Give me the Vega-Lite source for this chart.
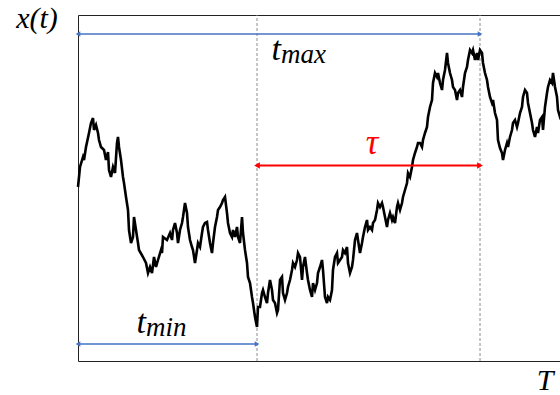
{
  "$schema": "https://vega.github.io/schema/vega-lite/v6.json",
  "width": 484,
  "height": 346,
  "autosize": "none",
  "padding": {"left": 78, "top": 15, "right": 0, "bottom": 34},
  "background": "white",
  "config": {"view": {"stroke": "#222222", "strokeWidth": 1}},
  "datasets": {
    "path": [
      {"t":0,"v":1},{"t":2,"v":21},{"t":5,"v":31},{"t":6,"v":28},{"t":8,"v":41},{"t":11,"v":55},{"t":13,"v":65},{"t":15,"v":70},{"t":16,"v":58},{"t":18,"v":63},{"t":20,"v":55},{"t":21,"v":48},{"t":23,"v":41},{"t":26,"v":38},{"t":28,"v":28},{"t":30,"v":36},{"t":31,"v":18},{"t":33,"v":11},{"t":35,"v":21},{"t":37,"v":15},{"t":39,"v":45},{"t":40,"v":51},{"t":41,"v":41},{"t":43,"v":28},{"t":45,"v":11},{"t":46,"v":5},{"t":48,"v":-9},{"t":50,"v":-22},{"t":51,"v":-42},{"t":53,"v":-55},{"t":55,"v":-49},{"t":56,"v":-29},{"t":58,"v":-42},{"t":60,"v":-55},{"t":61,"v":-62},{"t":65,"v":-69},{"t":68,"v":-75},{"t":70,"v":-85},{"t":72,"v":-79},{"t":74,"v":-85},{"t":76,"v":-69},{"t":78,"v":-79},{"t":80,"v":-72},{"t":83,"v":-62},{"t":84,"v":-65},{"t":85,"v":-49},{"t":89,"v":-52},{"t":92,"v":-45},{"t":94,"v":-52},{"t":95,"v":-42},{"t":97,"v":-35},{"t":99,"v":-45},{"t":100,"v":-55},{"t":102,"v":-42},{"t":104,"v":-35},{"t":105,"v":-29},{"t":107,"v":-15},{"t":109,"v":-25},{"t":110,"v":-39},{"t":112,"v":-52},{"t":114,"v":-59},{"t":115,"v":-62},{"t":117,"v":-75},{"t":119,"v":-62},{"t":120,"v":-55},{"t":122,"v":-59},{"t":124,"v":-45},{"t":125,"v":-39},{"t":127,"v":-35},{"t":129,"v":-34},{"t":130,"v":-42},{"t":132,"v":-55},{"t":134,"v":-65},{"t":135,"v":-55},{"t":137,"v":-39},{"t":139,"v":-29},{"t":140,"v":-22},{"t":142,"v":-19},{"t":144,"v":-15},{"t":145,"v":-12},{"t":147,"v":-9},{"t":149,"v":-25},{"t":150,"v":-35},{"t":152,"v":-45},{"t":154,"v":-49},{"t":155,"v":-42},{"t":157,"v":-49},{"t":159,"v":-39},{"t":160,"v":-49},{"t":162,"v":-55},{"t":164,"v":-29},{"t":165,"v":-45},{"t":167,"v":-62},{"t":169,"v":-75},{"t":170,"v":-89},{"t":172,"v":-95},{"t":174,"v":-109},{"t":175,"v":-115},{"t":177,"v":-129},{"t":179,"v":-139},{"t":180,"v":-119},{"t":182,"v":-119},{"t":184,"v":-105},{"t":185,"v":-102},{"t":187,"v":-109},{"t":189,"v":-115},{"t":190,"v":-105},{"t":192,"v":-92},{"t":194,"v":-102},{"t":195,"v":-112},{"t":197,"v":-115},{"t":199,"v":-125},{"t":200,"v":-122},{"t":202,"v":-92},{"t":204,"v":-89},{"t":205,"v":-105},{"t":207,"v":-112},{"t":209,"v":-105},{"t":210,"v":-99},{"t":212,"v":-92},{"t":214,"v":-82},{"t":215,"v":-75},{"t":217,"v":-79},{"t":219,"v":-72},{"t":220,"v":-65},{"t":222,"v":-69},{"t":224,"v":-92},{"t":225,"v":-79},{"t":227,"v":-69},{"t":229,"v":-85},{"t":230,"v":-92},{"t":232,"v":-102},{"t":234,"v":-109},{"t":235,"v":-95},{"t":237,"v":-102},{"t":239,"v":-95},{"t":240,"v":-85},{"t":242,"v":-79},{"t":244,"v":-72},{"t":245,"v":-82},{"t":247,"v":-109},{"t":249,"v":-115},{"t":250,"v":-109},{"t":252,"v":-112},{"t":254,"v":-102},{"t":255,"v":-82},{"t":257,"v":-69},{"t":259,"v":-65},{"t":260,"v":-75},{"t":262,"v":-72},{"t":264,"v":-69},{"t":265,"v":-62},{"t":267,"v":-65},{"t":269,"v":-59},{"t":270,"v":-75},{"t":272,"v":-85},{"t":274,"v":-79},{"t":275,"v":-72},{"t":277,"v":-52},{"t":279,"v":-45},{"t":280,"v":-52},{"t":282,"v":-65},{"t":284,"v":-55},{"t":285,"v":-49},{"t":287,"v":-39},{"t":289,"v":-32},{"t":290,"v":-42},{"t":292,"v":-39},{"t":294,"v":-42},{"t":295,"v":-35},{"t":297,"v":-32},{"t":299,"v":-22},{"t":300,"v":-15},{"t":302,"v":-19},{"t":304,"v":-15},{"t":305,"v":-19},{"t":307,"v":-29},{"t":309,"v":-39},{"t":310,"v":-32},{"t":312,"v":-25},{"t":314,"v":-32},{"t":315,"v":-29},{"t":317,"v":-35},{"t":319,"v":-19},{"t":320,"v":-15},{"t":322,"v":-22},{"t":324,"v":-15},{"t":325,"v":-9},{"t":327,"v":-2},{"t":329,"v":5},{"t":330,"v":15},{"t":332,"v":11},{"t":334,"v":21},{"t":335,"v":28},{"t":337,"v":35},{"t":339,"v":41},{"t":340,"v":45},{"t":342,"v":45},{"t":344,"v":41},{"t":345,"v":48},{"t":347,"v":55},{"t":349,"v":61},{"t":350,"v":71},{"t":352,"v":81},{"t":354,"v":88},{"t":355,"v":105},{"t":357,"v":115},{"t":359,"v":111},{"t":360,"v":115},{"t":362,"v":105},{"t":364,"v":98},{"t":365,"v":108},{"t":367,"v":118},{"t":369,"v":135},{"t":370,"v":125},{"t":372,"v":115},{"t":374,"v":108},{"t":375,"v":101},{"t":377,"v":98},{"t":379,"v":88},{"t":380,"v":95},{"t":382,"v":98},{"t":384,"v":91},{"t":385,"v":101},{"t":387,"v":115},{"t":389,"v":121},{"t":390,"v":128},{"t":392,"v":138},{"t":394,"v":135},{"t":395,"v":138},{"t":397,"v":128},{"t":399,"v":135},{"t":400,"v":128},{"t":402,"v":138},{"t":404,"v":135},{"t":405,"v":125},{"t":407,"v":115},{"t":409,"v":108},{"t":410,"v":101},{"t":412,"v":91},{"t":414,"v":85},{"t":415,"v":88},{"t":417,"v":75},{"t":419,"v":68},{"t":420,"v":48},{"t":422,"v":40},{"t":424,"v":35},{"t":425,"v":28},{"t":427,"v":38},{"t":429,"v":45},{"t":430,"v":41},{"t":432,"v":51},{"t":434,"v":58},{"t":435,"v":65},{"t":437,"v":68},{"t":439,"v":61},{"t":440,"v":65},{"t":442,"v":75},{"t":444,"v":81},{"t":445,"v":91},{"t":447,"v":98},{"t":449,"v":95},{"t":450,"v":85},{"t":452,"v":75},{"t":454,"v":65},{"t":455,"v":58},{"t":457,"v":51},{"t":459,"v":61},{"t":460,"v":55},{"t":462,"v":68},{"t":464,"v":71},{"t":465,"v":58},{"t":467,"v":81},{"t":469,"v":95},{"t":470,"v":101},{"t":472,"v":108},{"t":474,"v":105},{"t":475,"v":115},{"t":477,"v":101},{"t":479,"v":91},{"t":480,"v":78},{"t":482,"v":71},{"t":484,"v":74}
    ],
    "events": [{"event": "t_min", "t": 179}, {"event": "t_max", "t": 402}],
    "spans": [
      {"name": "t_max", "t0": 0, "t1": 402, "v": 154},
      {"name": "t_min", "t0": 0, "t1": 179, "v": -156},
      {"name": "tau", "t0": 179, "t1": 402, "v": 22.5}
    ],
    "labels": [
      {"name": "t_max", "main": "t", "sub": "max", "t": 203, "v": 128},
      {"name": "t_min", "main": "t", "sub": "min", "t": 68, "v": -145},
      {"name": "tau", "main": "τ", "t": 294, "v": 34}
    ],
    "titles": [
      {"name": "x(t)", "t": -41, "v": 160},
      {"name": "T", "t": 467, "v": -202}
    ]
  },
  "layer": [
    {
      "mark": {"type": "rule", "color": "#cccccc", "strokeWidth": 1},
      "encoding": {
        "y": {"datum": 0, "type": "quantitative", "scale": {"domain": [-173, 173], "nice": false, "zero": false}, "axis": null}
      }
    },
    {
      "data": {"name": "events"},
      "mark": {"type": "rule", "color": "#8c8c8c", "strokeWidth": 1, "strokeDash": [3, 2]},
      "encoding": {
        "x": {"field": "t", "type": "quantitative", "scale": {"domain": [0, 484], "nice": false, "zero": false}, "axis": null},
        "y": {"datum": -173, "type": "quantitative", "scale": {"domain": [-173, 173], "nice": false, "zero": false}, "axis": null},
        "y2": {"datum": 173}
      }
    },
    {
      "data": {"name": "path"},
      "mark": {"type": "line", "color": "#000000", "strokeWidth": 2.6},
      "encoding": {
        "x": {"field": "t", "type": "quantitative", "scale": {"domain": [0, 484], "nice": false, "zero": false}, "axis": null},
        "y": {"field": "v", "type": "quantitative", "scale": {"domain": [-173, 173], "nice": false, "zero": false}, "axis": null}
      }
    },
    {
      "data": {"name": "spans"},
      "transform": [{"filter": "datum.name !== 'tau'"}],
      "mark": {"type": "rule", "color": "#4472c4", "strokeWidth": 1.3},
      "encoding": {
        "x": {"field": "t0", "type": "quantitative", "scale": {"domain": [0, 484], "nice": false, "zero": false}, "axis": null},
        "x2": {"field": "t1"},
        "y": {"field": "v", "type": "quantitative", "scale": {"domain": [-173, 173], "nice": false, "zero": false}, "axis": null}
      }
    },
    {
      "data": {"name": "spans"},
      "transform": [{"filter": "datum.name === 'tau'"}],
      "mark": {"type": "rule", "color": "#ff0000", "strokeWidth": 2.2},
      "encoding": {
        "x": {"field": "t0", "type": "quantitative", "scale": {"domain": [0, 484], "nice": false, "zero": false}, "axis": null},
        "x2": {"field": "t1"},
        "y": {"field": "v", "type": "quantitative", "scale": {"domain": [-173, 173], "nice": false, "zero": false}, "axis": null}
      }
    },
    {
      "data": {"name": "spans"},
      "transform": [{"filter": "datum.name !== 'tau'"}],
      "mark": {"type": "point", "shape": "triangle-left", "filled": true, "color": "#4472c4", "size": 28, "opacity": 1, "dx": 4},
      "encoding": {
        "x": {"field": "t0", "type": "quantitative", "scale": {"domain": [0, 484], "nice": false, "zero": false}, "axis": null},
        "y": {"field": "v", "type": "quantitative", "scale": {"domain": [-173, 173], "nice": false, "zero": false}, "axis": null}
      }
    },
    {
      "data": {"name": "spans"},
      "transform": [{"filter": "datum.name !== 'tau'"}],
      "mark": {"type": "point", "shape": "triangle-right", "filled": true, "color": "#4472c4", "size": 28, "opacity": 1, "dx": -3},
      "encoding": {
        "x": {"field": "t1", "type": "quantitative", "scale": {"domain": [0, 484], "nice": false, "zero": false}, "axis": null},
        "y": {"field": "v", "type": "quantitative", "scale": {"domain": [-173, 173], "nice": false, "zero": false}, "axis": null}
      }
    },
    {
      "data": {"name": "spans"},
      "transform": [{"filter": "datum.name === 'tau'"}],
      "mark": {"type": "point", "shape": "triangle-left", "filled": true, "color": "#ff0000", "size": 45, "opacity": 1, "dx": 3},
      "encoding": {
        "x": {"field": "t0", "type": "quantitative", "scale": {"domain": [0, 484], "nice": false, "zero": false}, "axis": null},
        "y": {"field": "v", "type": "quantitative", "scale": {"domain": [-173, 173], "nice": false, "zero": false}, "axis": null}
      }
    },
    {
      "data": {"name": "spans"},
      "transform": [{"filter": "datum.name === 'tau'"}],
      "mark": {"type": "point", "shape": "triangle-right", "filled": true, "color": "#ff0000", "size": 45, "opacity": 1, "dx": -3},
      "encoding": {
        "x": {"field": "t1", "type": "quantitative", "scale": {"domain": [0, 484], "nice": false, "zero": false}, "axis": null},
        "y": {"field": "v", "type": "quantitative", "scale": {"domain": [-173, 173], "nice": false, "zero": false}, "axis": null}
      }
    },
    {
      "data": {"name": "labels"},
      "transform": [{"filter": "datum.name !== 'tau'"}],
      "mark": {"type": "text", "font": "Liberation Serif", "fontStyle": "italic", "fontSize": 34, "align": "right", "baseline": "alphabetic", "color": "#000000"},
      "encoding": {
        "x": {"field": "t", "type": "quantitative", "scale": {"domain": [0, 484], "nice": false, "zero": false}, "axis": null},
        "y": {"field": "v", "type": "quantitative", "scale": {"domain": [-173, 173], "nice": false, "zero": false}, "axis": null},
        "text": {"field": "main"}
      }
    },
    {
      "data": {"name": "labels"},
      "transform": [{"filter": "datum.name !== 'tau'"}],
      "mark": {"type": "text", "font": "Liberation Serif", "fontStyle": "italic", "fontSize": 27, "align": "left", "baseline": "alphabetic", "color": "#000000", "dy": 3},
      "encoding": {
        "x": {"field": "t", "type": "quantitative", "scale": {"domain": [0, 484], "nice": false, "zero": false}, "axis": null},
        "y": {"field": "v", "type": "quantitative", "scale": {"domain": [-173, 173], "nice": false, "zero": false}, "axis": null},
        "text": {"field": "sub"}
      }
    },
    {
      "data": {"name": "labels"},
      "transform": [{"filter": "datum.name === 'tau'"}],
      "mark": {"type": "text", "font": "Liberation Serif", "fontStyle": "italic", "fontSize": 35, "align": "center", "baseline": "alphabetic", "color": "#ff0000"},
      "encoding": {
        "x": {"field": "t", "type": "quantitative", "scale": {"domain": [0, 484], "nice": false, "zero": false}, "axis": null},
        "y": {"field": "v", "type": "quantitative", "scale": {"domain": [-173, 173], "nice": false, "zero": false}, "axis": null},
        "text": {"field": "main"}
      }
    },
    {
      "data": {"name": "titles"},
      "mark": {"type": "text", "font": "Liberation Serif", "fontStyle": "italic", "fontSize": 30, "align": "center", "baseline": "alphabetic", "color": "#000000"},
      "encoding": {
        "x": {"field": "t", "type": "quantitative", "scale": {"domain": [0, 484], "nice": false, "zero": false}, "axis": null},
        "y": {"field": "v", "type": "quantitative", "scale": {"domain": [-173, 173], "nice": false, "zero": false}, "axis": null},
        "text": {"field": "name"}
      }
    }
  ]
}
